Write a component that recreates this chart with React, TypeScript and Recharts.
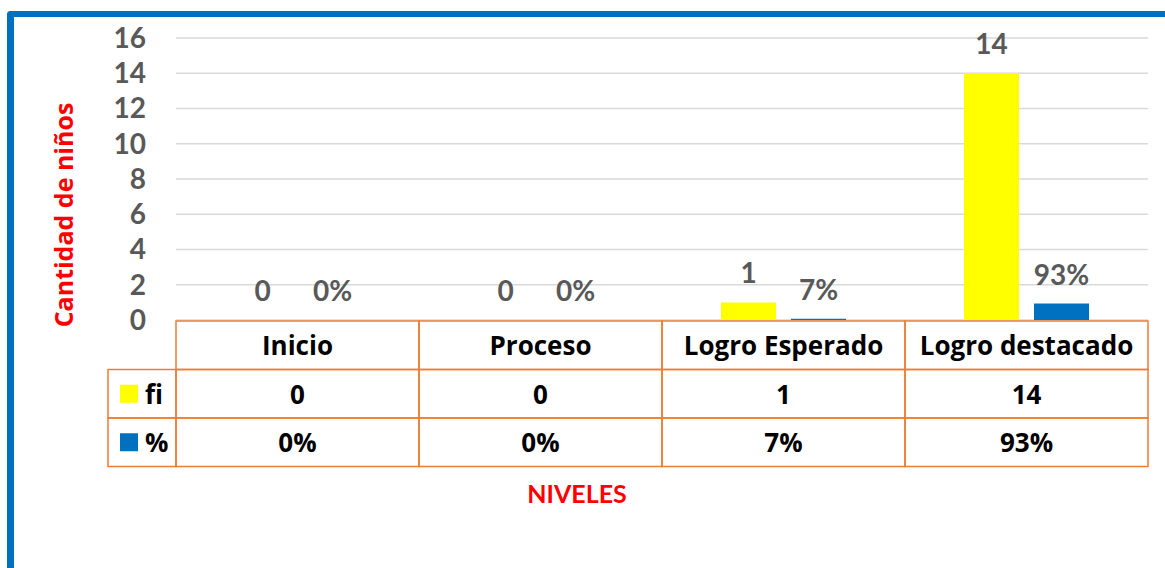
import { BarChart, Bar, XAxis, YAxis, CartesianGrid, LabelList } from "recharts";

const categories = ["Inicio", "Proceso", "Logro Esperado", "Logro destacado"];
const fiValues = [0, 0, 1, 14];
const pctValues = [0, 0, 0.07, 0.93];
const yTicks = [0, 2, 4, 6, 8, 10, 12, 14, 16];

const data = categories.map((name, i) => ({ name, fi: fiValues[i], pct: pctValues[i] }));

const FONT = "Lato, 'Liberation Sans', sans-serif";
const TABLE_FONT = "'Open Sans', Lato, sans-serif";
const ORANGE = "#ED7D31";
const YELLOW = "#FFFF00";
const BLUE = "#0070C0";
const HALF = 121.5; // half of a category column
const ROW = 48.5;

const fmtPct = (v: number) => `${Math.round(v * 100)}%`;

function TableTick(props: any) {
    const { x, y, payload, index } = props;
    const i = categories.indexOf(payload.value);
    const top = y + 1;
    const left = x - HALF;
    const cellText = (ty: number, txt: string) => (
        <text x={x} y={ty} textAnchor="middle" dominantBaseline="central"
            fontFamily={TABLE_FONT} fontWeight="bold" fontSize={26} fill="#000">{txt}</text>
    );
    return (
        <g>
            {[0, 1, 2].map((r) => (
                <rect key={r} x={left} y={top + r * ROW} width={HALF * 2} height={ROW}
                    fill="none" stroke={ORANGE} strokeWidth={1.5} />
            ))}
            {cellText(top + ROW / 2, payload.value)}
            {cellText(top + ROW * 1.5, String(fiValues[i]))}
            {cellText(top + ROW * 2.5, fmtPct(pctValues[i]))}
            {index === 0 && (
                <g>
                    <rect x={left - 68} y={top + ROW} width={68} height={ROW} fill="none" stroke={ORANGE} strokeWidth={1.5} />
                    <rect x={left - 68} y={top + ROW * 2} width={68} height={ROW} fill="none" stroke={ORANGE} strokeWidth={1.5} />
                    <rect x={left - 56} y={top + ROW * 1.5 - 9} width={18} height={18} fill={YELLOW} />
                    <rect x={left - 56} y={top + ROW * 2.5 - 9} width={18} height={18} fill={BLUE} />
                    <text x={left - 31} y={top + ROW * 1.5} dominantBaseline="central"
                        fontFamily={TABLE_FONT} fontWeight="bold" fontSize={26} fill="#000">fi</text>
                    <text x={left - 31} y={top + ROW * 2.5} dominantBaseline="central"
                        fontFamily={TABLE_FONT} fontWeight="bold" fontSize={26} fill="#000">%</text>
                </g>
            )}
        </g>
    );
}

export default function App() {
    return (
        <div style={{ position: "relative", width: 1165, height: 568, overflow: "hidden", background: "#fff" }}>
            <style>{`body{margin:0}`}</style>
            <div
                style={{
                    position: "absolute",
                    left: 7,
                    top: 11,
                    width: 1200,
                    height: 600,
                    borderTop: `6px solid ${BLUE}`,
                    borderLeft: `7px solid ${BLUE}`,
                    borderTopLeftRadius: 4,
                }}
            />
            <div style={{ position: "absolute", left: 0, top: 0 }}>
                <BarChart
                    width={1165}
                    height={568}
                    data={data}
                    barGap={15}
                    margin={{ top: 38, right: 17, left: 0, bottom: 0 }}
                >
                    <CartesianGrid vertical={false} stroke="#D9D9D9" strokeWidth={1.5} />
                    <YAxis
                        width={176}
                        domain={[0, 16]}
                        ticks={yTicks}
                        interval={0}
                        axisLine={false}
                        tickLine={false}
                        tickSize={0}
                        tickMargin={30}
                        tick={{ fill: "#595959", fontSize: 28, fontWeight: "bold", fontFamily: FONT }}
                        label={{
                            content: (p: any) => {
                                const vb = p.viewBox;
                                const cx = vb.x + 63;
                                const cy = vb.y + 177;
                                return (
                                    <text x={cx} y={cy} transform={`rotate(-90 ${cx} ${cy})`} textAnchor="middle"
                                        dominantBaseline="central" fontFamily={TABLE_FONT} fontWeight="bold"
                                        fontSize={25} fill="#FF0000">Cantidad de niños</text>
                                );
                            },
                        }}
                    />
                    <XAxis
                        dataKey="name"
                        height={248}
                        interval={0}
                        axisLine={false}
                        tickLine={false}
                        tickSize={0}
                        tickMargin={0}
                        tick={<TableTick />}
                        label={{
                            content: (p: any) => {
                                const vb = p.viewBox;
                                return (
                                    <text x={vb.x + 401} y={vb.y + 173} textAnchor="middle" dominantBaseline="central"
                                        fontFamily={FONT} fontWeight="bold" fontSize={25} fill="#FF0000">NIVELES</text>
                                );
                            },
                        }}
                    />
                    <Bar dataKey="fi" fill={YELLOW} barSize={55} minPointSize={0.01} isAnimationActive={false}>
                        <LabelList dataKey="fi" position="top" offset={19} fill="#595959"
                            style={{ fontSize: 28, fontWeight: "bold", fontFamily: FONT }} />
                    </Bar>
                    <Bar dataKey="pct" fill={BLUE} barSize={55} minPointSize={0.01} isAnimationActive={false}>
                        <LabelList dataKey="pct" position="top" offset={19} fill="#595959"
                            formatter={(v: any) => fmtPct(Number(v))}
                            style={{ fontSize: 28, fontWeight: "bold", fontFamily: FONT }} />
                    </Bar>
                </BarChart>
            </div>
        </div>
    );
}
